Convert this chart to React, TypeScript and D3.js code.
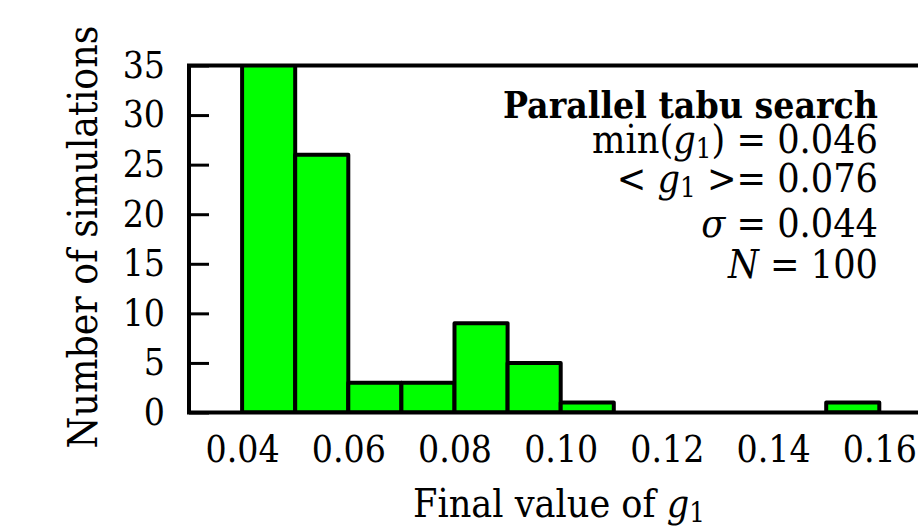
import React, { useRef, useEffect } from "react";
import * as d3 from "d3";

// histogram bins (final value of g1) and how many simulations fell in each
const binLo = [0.04, 0.05, 0.06, 0.07, 0.08, 0.09, 0.10, 0.15];
const binHi = [0.05, 0.06, 0.07, 0.08, 0.09, 0.10, 0.11, 0.16];
const counts = [52, 26, 3, 3, 9, 5, 1, 1];

const xTicks = [0.04, 0.06, 0.08, 0.10, 0.12, 0.14, 0.16];
const yTicks = [0, 5, 10, 15, 20, 25, 30, 35];

const W = 918;
const H = 527;
const margin = { left: 189, top: 65.5, bottom: 115 };
const font = "'DejaVu Serif Condensed', 'DejaVu Serif', serif";

// scale a text's font size so it spans the given width
const fitWidth = (sel: any, target: number) => {
    const w = sel.node().getComputedTextLength();
    const fs = +sel.attr("font-size");
    if (w > 0) sel.attr("font-size", fs * target / w);
    return +sel.attr("font-size");
};

function App() {
    const svgRef = useRef(null);

    useEffect(() => {
        const svg = d3.select(svgRef.current);
        svg.selectAll("*").remove();

        const x = d3.scaleLinear().domain([0.03, 0.17]).range([margin.left, margin.left + 14 * 53.1]);
        const y = d3.scaleLinear().domain([0, 35]).range([H - margin.bottom + 0.5, margin.top]);

        const data = counts.map((c, i) => ({ lo: binLo[i], hi: binHi[i], c }));

        svg.append("clipPath").attr("id", "plot-clip")
            .append("rect")
            .attr("x", x(0.03)).attr("y", y(35))
            .attr("width", x(0.17) - x(0.03)).attr("height", y(0) - y(35));

        svg.append("g").attr("clip-path", "url(#plot-clip)")
            .selectAll(".bar")
            .data(data)
            .join("rect")
            .attr("class", "bar")
            .attr("x", d => x(d.lo))
            .attr("width", d => x(d.hi) - x(d.lo))
            .attr("y", d => y(d.c))
            .attr("height", d => y(0) - y(d.c))
            .attr("fill", "#00ff00")
            .attr("stroke", "#000")
            .attr("stroke-width", 4)
            .attr("stroke-linejoin", "round");

        // y axis, ticks pointing inward
        const yAxis = d3.axisLeft(y).tickValues(yTicks).tickSize(-20).tickPadding(24);
        const gy = svg.append("g").attr("transform", `translate(${x(0.03)},0)`).call(yAxis);
        gy.select(".domain").remove();
        gy.selectAll("line").attr("stroke-width", 3);
        gy.selectAll("text").attr("font-size", 37).attr("font-family", font).attr("fill", "#000");

        const xAxis = d3.axisBottom(x).tickValues(xTicks).tickSize(0).tickPadding(23).tickFormat(d3.format(".2f"));
        const gx = svg.append("g").attr("transform", `translate(0,${y(0)})`).call(xAxis);
        gx.select(".domain").remove();
        gx.selectAll("text").attr("font-size", 37).attr("font-family", font).attr("fill", "#000");

        // frame
        svg.append("path")
            .attr("d", `M${x(0.17)},${y(35)}H${x(0.03)}V${y(0)}H${x(0.17)}Z`)
            .attr("stroke", "#000").attr("stroke-width", 4).attr("fill", "none");

        // axis titles
        const yl = svg.append("text")
            .attr("transform", `translate(97,237) rotate(-90)`)
            .attr("text-anchor", "middle")
            .attr("font-family", font).attr("font-size", 40)
            .text("Number of simulations");
        fitWidth(yl, 423);

        const xl = svg.append("text")
            .attr("x", 413).attr("y", 517)
            .attr("font-family", font).attr("font-size", 40);
        xl.append("tspan").text("Final value of ");
        xl.append("tspan").attr("font-style", "italic").text("g");
        xl.append("tspan").attr("font-size", "0.7em").attr("dy", "0.18em").text("1");
        fitWidth(xl, 292);

        // annotation
        const ax = 878;
        const note = svg.append("g").attr("font-family", font).attr("text-anchor", "end").attr("fill", "#000");
        const title = note.append("text").attr("x", ax).attr("y", 118).attr("font-weight", "bold").attr("font-size", 36)
            .text("Parallel tabu search");
        fitWidth(title, 375);

        const sub = (t: any, s: string) => {
            t.append("tspan").attr("font-style", "italic").text("g");
            t.append("tspan").attr("font-size", "0.7em").attr("dy", "0.18em").text("1");
            t.append("tspan").attr("dy", "-0.13em").text(s);
        };

        const l1 = note.append("text").attr("x", ax).attr("y", 153).attr("font-size", 36);
        l1.append("tspan").text("min(");
        sub(l1, ") = 0.046");
        const fs = fitWidth(l1, 286);

        const l2 = note.append("text").attr("x", ax).attr("y", 192).attr("font-size", fs);
        l2.append("tspan").text("< ");
        sub(l2, " >= 0.076");

        const l3 = note.append("text").attr("x", ax).attr("y", 237).attr("font-size", fs);
        l3.append("tspan").attr("font-style", "italic").text("σ");
        l3.append("tspan").text(" = 0.044");

        const l4 = note.append("text").attr("x", ax).attr("y", 278).attr("font-size", fs);
        l4.append("tspan").attr("font-style", "italic").text("N");
        l4.append("tspan").text(" = 100");
    }, []);

    return (
        <svg ref={svgRef} width={W} height={H}
            style={{ position: "absolute", left: 0, top: 0, background: "#fff" }} />
    );
}

export default App;
